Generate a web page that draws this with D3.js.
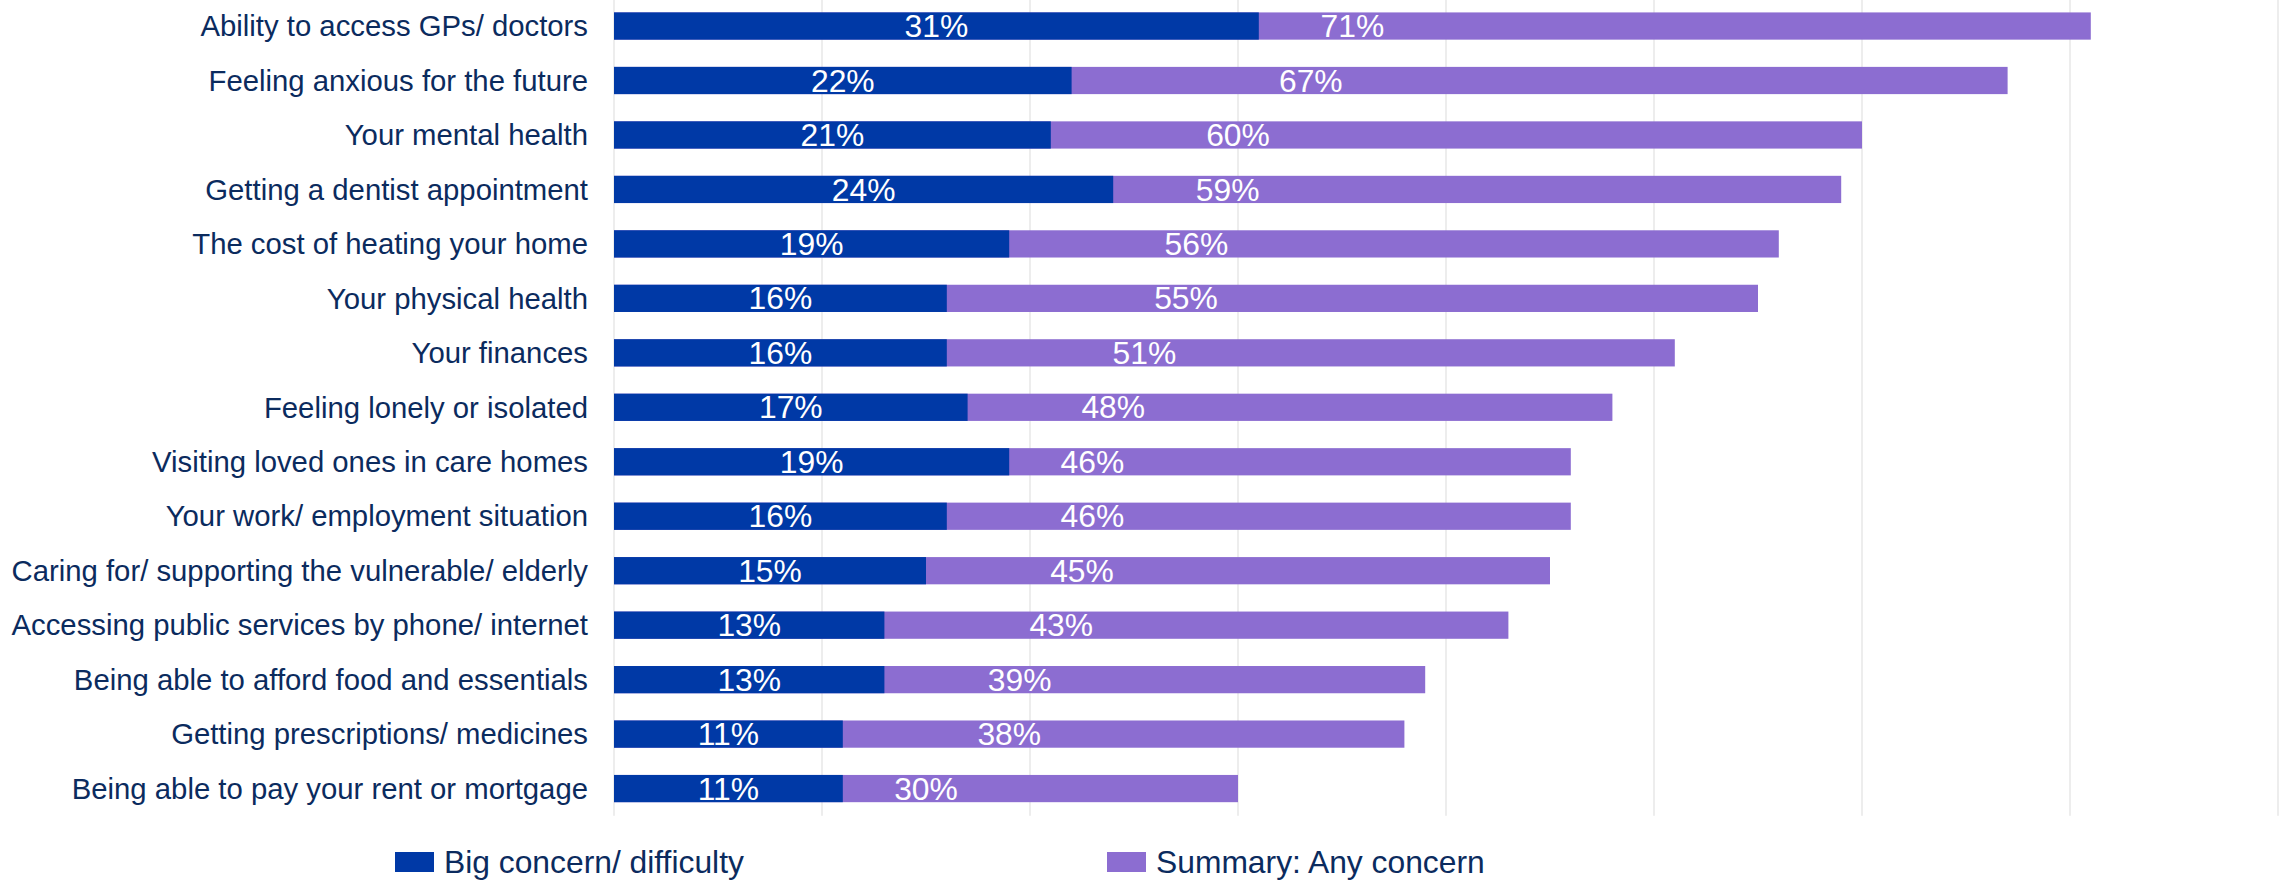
<!DOCTYPE html>
<html>
<head>
<meta charset="utf-8">
<script src="https://cdn.jsdelivr.net/npm/d3@7"></script>
<style>
  html, body { margin: 0; padding: 0; background: #ffffff; }
  svg { display: block; font-family: "Liberation Sans", Arial, sans-serif; }
</style>
</head>
<body>
<svg id="chart" width="2280" height="880"></svg>
<script>
// Concerns, in the order they are listed (top to bottom)
const categories = [
  "Ability to access GPs/ doctors",
  "Feeling anxious for the future",
  "Your mental health",
  "Getting a dentist appointment",
  "The cost of heating your home",
  "Your physical health",
  "Your finances",
  "Feeling lonely or isolated",
  "Visiting loved ones in care homes",
  "Your work/ employment situation",
  "Caring for/ supporting the vulnerable/ elderly",
  "Accessing public services by phone/ internet",
  "Being able to afford food and essentials",
  "Getting prescriptions/ medicines",
  "Being able to pay your rent or mortgage"
];

// Share of respondents (%)
const bigConcern = [31, 22, 21, 24, 19, 16, 16, 17, 19, 16, 15, 13, 13, 11, 11];
const anyConcern = [71, 67, 60, 59, 56, 55, 51, 48, 46, 46, 45, 43, 39, 38, 30];

const seriesNames = ["Big concern/ difficulty", "Summary: Any concern"];
const gridTicks = [0, 10, 20, 30, 40, 50, 60, 70, 80];

const colors = { big: "#0039A6", any: "#8C6DD1", text: "#0B2B5E", grid: "#EDEDED" };

const svg = d3.select("#chart");

const plot = { left: 614, right: 2278, top: -1.2, bottom: 815.8 };

const x = d3.scaleLinear().domain([0, 80]).range([plot.left, plot.right]);
const y = d3.scaleBand()
  .domain(categories)
  .range([plot.top, plot.bottom])
  .paddingInner(0.5)
  .paddingOuter(0.25);

// Vertical gridlines (including the 0% baseline)
svg.append("g")
  .selectAll("line")
  .data(gridTicks)
  .join("line")
  .attr("x1", d => x(d))
  .attr("x2", d => x(d))
  .attr("y1", 0)
  .attr("y2", plot.bottom)
  .attr("stroke", colors.grid)
  .attr("stroke-width", 2);

const rows = categories.map((c, i) => ({ cat: c, big: bigConcern[i], any: anyConcern[i] }));

// "Any concern" bars run from zero; "Big concern" bars overlay them
svg.append("g")
  .selectAll("rect")
  .data(rows)
  .join("rect")
  .attr("x", x(0))
  .attr("y", d => y(d.cat))
  .attr("width", d => x(d.any) - x(0))
  .attr("height", y.bandwidth())
  .attr("fill", colors.any);

svg.append("g")
  .selectAll("rect")
  .data(rows)
  .join("rect")
  .attr("x", x(0))
  .attr("y", d => y(d.cat))
  .attr("width", d => x(d.big) - x(0))
  .attr("height", y.bandwidth())
  .attr("fill", colors.big);

// Value labels centred on each bar
const labelSize = 31.8;
svg.append("g")
  .selectAll("text")
  .data(rows)
  .join("text")
  .attr("x", d => x(d.any / 2))
  .attr("y", d => y(d.cat) + y.bandwidth() / 2)
  .attr("dy", "0.35em")
  .attr("text-anchor", "middle")
  .attr("fill", "#ffffff")
  .style("font-size", labelSize + "px")
  .text(d => d.any + "%");

svg.append("g")
  .selectAll("text")
  .data(rows)
  .join("text")
  .attr("x", d => x(d.big / 2))
  .attr("y", d => y(d.cat) + y.bandwidth() / 2)
  .attr("dy", "0.35em")
  .attr("text-anchor", "middle")
  .attr("fill", "#ffffff")
  .style("font-size", labelSize + "px")
  .text(d => d.big + "%");

// Category axis on the left
const yAxis = d3.axisLeft(y).tickSize(0).tickPadding(26);
const gy = svg.append("g")
  .attr("transform", `translate(${plot.left},0)`)
  .call(yAxis);
gy.select(".domain").remove();
gy.selectAll("text")
  .attr("fill", colors.text)
  .attr("dy", "0.35em")
  .style("font-size", "29.3px")
  .style("font-family", "\"Liberation Sans\", Arial, sans-serif");

// Legend
const legendItems = [
  { name: seriesNames[0], color: colors.big, x: 395 },
  { name: seriesNames[1], color: colors.any, x: 1107 }
];
const lg = svg.append("g")
  .selectAll("g")
  .data(legendItems)
  .join("g")
  .attr("transform", d => `translate(${d.x},852)`);
lg.append("rect")
  .attr("width", 39)
  .attr("height", 20)
  .attr("fill", d => d.color);
lg.append("text")
  .attr("x", 49)
  .attr("y", 10)
  .attr("dy", "0.35em")
  .attr("fill", colors.text)
  .style("font-size", "31.8px")
  .text(d => d.name);
</script>
</body>
</html>
